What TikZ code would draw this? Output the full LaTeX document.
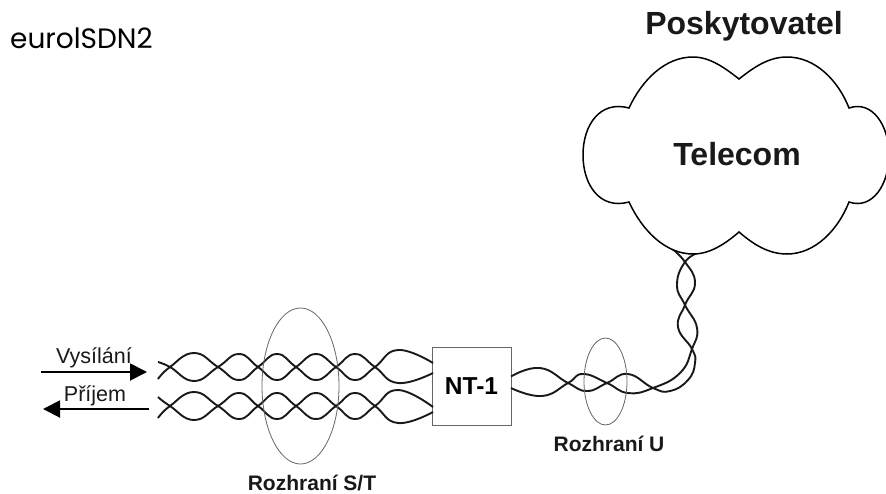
\documentclass[tikz,border=0pt]{standalone}
\usepackage{fontspec}
\setmainfont{Liberation Sans}
\newfontfamily\geofont{Poppins}
\usetikzlibrary{arrows.meta,shapes.geometric}
\tikzset{
 wire/.style={line width=1.9pt,black!90,line join=round},
 ring/.style={draw=black!60,line width=0.8pt,ellipse,inner sep=0pt,fill=none},
 sig/.style={line width=1.9pt,-{Triangle[length=17pt,width=17pt]}},
 lab/.style={inner sep=0pt,text=black!90},
 blab/.style={inner sep=0pt,text=black!90},
 twist/.style={smooth,tension=0.8},
}
\newcommand{\fs}[1]{\fontsize{#1}{#1}\selectfont}
\begin{document}
\begin{tikzpicture}[x=1pt,y=-1pt]
\useasboundingbox (0,0) rectangle (886,493);
% box
\node[draw=black!60,line width=1pt,minimum width=79pt,minimum height=78pt,inner sep=0pt,font=\bfseries\fs{24.5}] (nt) at (471.5,386) {NT-1};
% coordinates on the NT-1 box
\coordinate (a1) at (433,363); \coordinate (a2) at (433,373);
\coordinate (b1) at (433,407); \coordinate (b2) at (433,412);
\coordinate (u1) at (511,376.5); \coordinate (u2) at (511,388);
% twisted pairs
\draw[wire] plot[twist] coordinates {(158,379) (170,367) (194,353) (218,367) (239,380) (258,367) (277,354) (296,367) (316,380) (336,367) (355,354) (375,367) (398,383) (a2)};
\draw[wire] plot[twist] coordinates {(158,362) (170,367) (194,381) (218,367) (239,354) (258,367) (277,380) (296,367) (316,354) (336,367) (355,380) (375,367) (398,350) (a1)};
\draw[wire] plot[twist] coordinates {(158,418) (170,406) (194,392) (218,406) (239,419) (258,406) (277,393) (296,406) (316,419) (336,406) (355,393) (375,406) (398,423) (b2)};
\draw[wire] plot[twist] coordinates {(158,397) (170,406) (194,420) (218,406) (239,393) (258,406) (277,419) (296,406) (316,393) (336,406) (355,419) (375,406) (398,390) (b1)};
% U line to the cloud
\draw[wire] plot[twist] coordinates {(u1) (540,368) (568,383) (587,391) (607,383) (628,374) (653,388) (670,391) (688,380) (695,363) (692,349) (678,327) (685,305) (695,283) (685,262) (670,247)};
\draw[wire] plot[twist] coordinates {(u2) (542,396) (568,383) (583,374) (607,383) (628,393) (653,388) (680,373) (692,349) (697,328) (685,305) (677,285) (685,262) (700,252)};
% ellipses
\node[ring,minimum width=77pt,minimum height=156pt] (st) at (300.5,386) {};
\node[ring,minimum width=43pt,minimum height=87pt] (ui) at (605.5,381.5) {};
% cloud
\draw[black,line width=1.5pt,fill=white] (739,79)
  .. controls (725,68) and (710,57) .. (693,57)
  .. controls (665,57) and (642,80) .. (629,108)
  .. controls (600,100) and (583,125) .. (583,155)
  .. controls (583,185) and (600,210) .. (629,202)
  .. controls (642,230) and (665,254) .. (693,254)
  .. controls (710,254) and (725,244) .. (739,232)
  .. controls (753,244) and (768,254) .. (787,254)
  .. controls (815,254) and (838,230) .. (849,202)
  .. controls (872,210) and (889,185) .. (889,155)
  .. controls (889,125) and (872,100) .. (849,108)
  .. controls (838,80) and (815,57) .. (787,57)
  .. controls (768,57) and (753,68) .. (739,79) -- cycle;
% arrows
\coordinate (t0) at (41,372); \coordinate (t1) at (147,372);
\coordinate (r0) at (149,409); \coordinate (r1) at (43,409);
\draw[sig] (t0) -- (t1);
\draw[sig] (r0) -- (r1);
% labels
\node[lab,font=\fs{21.5}] (vys) at (94,358) {Vysílání};
\node[lab,font=\fs{21.5}] (pri) at (95,396) {Příjem};
\node[blab,font=\bfseries\fs{21}] (lst) at (312,483) {Rozhraní S/T};
\node[blab,font=\bfseries\fs{21}] (lu) at (609,444) {Rozhraní U};
\node[blab,font=\bfseries\fs{32}] (tel) at (737,154) {Telecom};
\node[blab,font=\bfseries\fs{32}] (pos) at (744,26) {Poskytovatel};
\node[inner sep=0pt,anchor=base west,font=\geofont\fs{28}] (eu) at (10,48) {eurolSDN2};
\end{tikzpicture}
\end{document}
